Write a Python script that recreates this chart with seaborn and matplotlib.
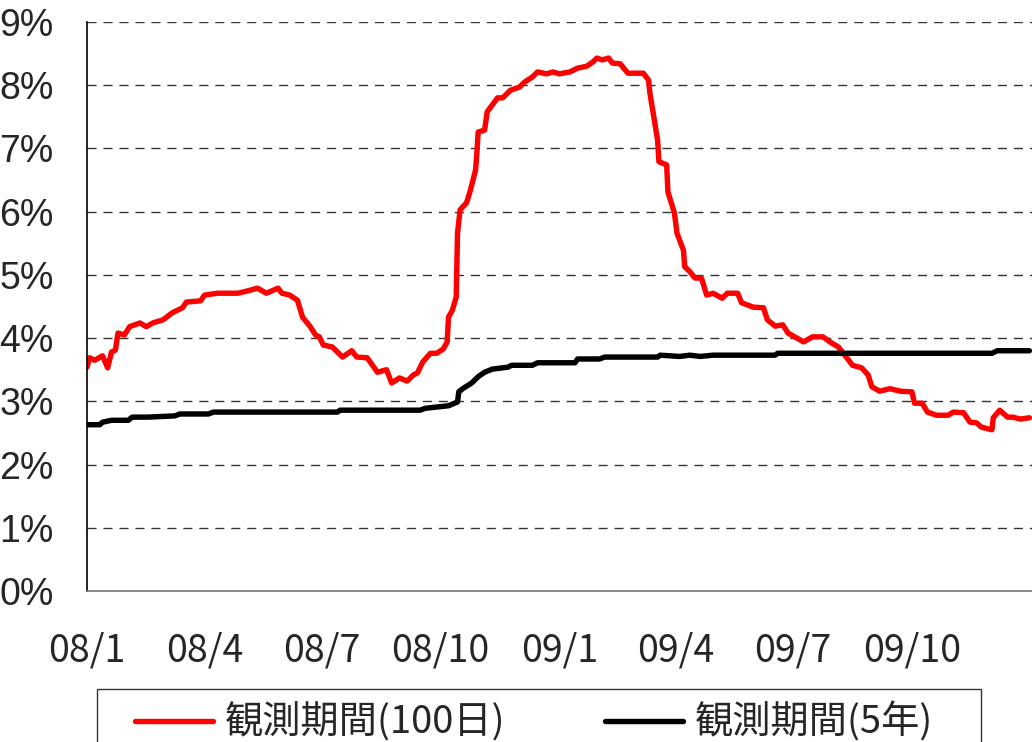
import pandas as pd
import matplotlib.pyplot as plt
from matplotlib import font_manager
from matplotlib.patches import Rectangle
import seaborn as sns

# --- data ---
red_dates = [
    "2008-01-01", "2008-01-03", "2008-01-07", "2008-01-13", "2008-01-17", "2008-01-20",
    "2008-01-23", "2008-01-25", "2008-01-30", "2008-02-03", "2008-02-11", "2008-02-16",
    "2008-02-21", "2008-02-29", "2008-03-07", "2008-03-15", "2008-03-18", "2008-03-29",
    "2008-04-01", "2008-04-11", "2008-04-27", "2008-05-05", "2008-05-12", "2008-05-19",
    "2008-05-28", "2008-05-31", "2008-06-06", "2008-06-12", "2008-06-16", "2008-06-22",
    "2008-06-26", "2008-06-29", "2008-07-02", "2008-07-09", "2008-07-17", "2008-07-24",
    "2008-07-28", "2008-08-05", "2008-08-13", "2008-08-20", "2008-08-24", "2008-08-30",
    "2008-09-05", "2008-09-10", "2008-09-13", "2008-09-17", "2008-09-23", "2008-09-28",
    "2008-10-03", "2008-10-06", "2008-10-07", "2008-10-10", "2008-10-13", "2008-10-14",
    "2008-10-16", "2008-10-21", "2008-10-24", "2008-10-28", "2008-10-29", "2008-10-30",
    "2008-11-04", "2008-11-06", "2008-11-10", "2008-11-14", "2008-11-18", "2008-11-24",
    "2008-12-01", "2008-12-05", "2008-12-11", "2008-12-15", "2008-12-22", "2008-12-27",
    "2009-01-01", "2009-01-09", "2009-01-15", "2009-01-22", "2009-01-27", "2009-01-30",
    "2009-02-03", "2009-02-08", "2009-02-11", "2009-02-17", "2009-02-23", "2009-03-07",
    "2009-03-11", "2009-03-12", "2009-03-18", "2009-03-19", "2009-03-25", "2009-03-26",
    "2009-03-31", "2009-04-02", "2009-04-07", "2009-04-08", "2009-04-12", "2009-04-16",
    "2009-04-21", "2009-04-25", "2009-04-30", "2009-05-07", "2009-05-11", "2009-05-19",
    "2009-05-22", "2009-05-31", "2009-06-08", "2009-06-11", "2009-06-17", "2009-06-23",
    "2009-06-27", "2009-07-04", "2009-07-09", "2009-07-16", "2009-07-24", "2009-07-31",
    "2009-08-05", "2009-08-10", "2009-08-16", "2009-08-23", "2009-08-28", "2009-08-31",
    "2009-09-06", "2009-09-14", "2009-09-22", "2009-10-01", "2009-10-03", "2009-10-09",
    "2009-10-13", "2009-10-20", "2009-10-29", "2009-11-02", "2009-11-10", "2009-11-15",
    "2009-11-20", "2009-11-24", "2009-12-02", "2009-12-03", "2009-12-08", "2009-12-14",
    "2009-12-18", "2009-12-24", "2009-12-31",
]
red_values = [
    3.54, 3.69, 3.65, 3.72, 3.53, 3.78,
    3.81, 4.08, 4.05, 4.18, 4.24, 4.18,
    4.24, 4.29, 4.40, 4.48, 4.57, 4.59,
    4.68, 4.71, 4.71, 4.75, 4.79, 4.71,
    4.79, 4.71, 4.68, 4.60, 4.33, 4.18,
    4.05, 4.02, 3.89, 3.86, 3.70, 3.80,
    3.70, 3.69, 3.46, 3.50, 3.29, 3.37,
    3.32, 3.42, 3.45, 3.62, 3.76, 3.76,
    3.83, 3.94, 4.33, 4.44, 4.65, 5.66,
    6.03, 6.14, 6.34, 6.66, 6.93, 7.26,
    7.29, 7.58, 7.69, 7.80, 7.80, 7.92,
    7.97, 8.05, 8.13, 8.21, 8.18, 8.21,
    8.18, 8.21, 8.27, 8.30, 8.37, 8.43,
    8.40, 8.43, 8.35, 8.34, 8.19, 8.19,
    8.08, 7.88, 7.13, 6.79, 6.74, 6.31,
    5.98, 5.66, 5.39, 5.13, 5.05, 4.95,
    4.95, 4.68, 4.71, 4.63, 4.71, 4.71,
    4.56, 4.49, 4.48, 4.29, 4.19, 4.21,
    4.08, 4.00, 3.94, 4.02, 4.02, 3.92,
    3.86, 3.73, 3.57, 3.53, 3.42, 3.23,
    3.16, 3.20, 3.16, 3.15, 2.97, 2.97,
    2.83, 2.78, 2.78, 2.83, 2.82, 2.67,
    2.66, 2.59, 2.55, 2.74, 2.86, 2.75,
    2.75, 2.72, 2.74,
]

black_dates = [
    "2008-01-01", "2008-01-11", "2008-01-13", "2008-01-20", "2008-02-02", "2008-02-05",
    "2008-02-17", "2008-03-09", "2008-03-13", "2008-04-04", "2008-04-08", "2008-07-13",
    "2008-07-15", "2008-09-15", "2008-09-19", "2008-10-07", "2008-10-14", "2008-10-15",
    "2008-10-18", "2008-10-25", "2008-10-30", "2008-11-04", "2008-11-10", "2008-11-22",
    "2008-11-25", "2008-12-11", "2008-12-15", "2009-01-13", "2009-01-15", "2009-02-01",
    "2009-02-05", "2009-03-18", "2009-03-20", "2009-04-04", "2009-04-12", "2009-04-20",
    "2009-04-30", "2009-06-17", "2009-06-19", "2009-12-02", "2009-12-06", "2009-12-31",
]
black_values = [
    2.63, 2.63, 2.67, 2.70, 2.70, 2.75,
    2.75, 2.77, 2.80, 2.80, 2.83, 2.83,
    2.86, 2.86, 2.89, 2.93, 2.99, 3.15,
    3.20, 3.29, 3.39, 3.46, 3.51, 3.54,
    3.57, 3.57, 3.61, 3.61, 3.67, 3.67,
    3.70, 3.70, 3.73, 3.71, 3.73, 3.71,
    3.73, 3.73, 3.76, 3.76, 3.80, 3.80,
]

series_labels = ["観測期間(100日)", "観測期間(5年)"]
series_colors = ["#ff0000", "#000000"]
tick_dates = ["2008-01-01", "2008-04-01", "2008-07-01", "2008-10-01",
              "2009-01-01", "2009-04-01", "2009-07-01", "2009-10-01"]
tick_labels = ["08/1", "08/4", "08/7", "08/10", "09/1", "09/4", "09/7", "09/10"]
y_ticks = list(range(0, 10))

df = pd.concat([
    pd.DataFrame({"date": pd.to_datetime(red_dates), "vol": red_values, "series": series_labels[0]}),
    pd.DataFrame({"date": pd.to_datetime(black_dates), "vol": black_values, "series": series_labels[1]}),
])

# --- style ---
sns.set_theme(style="white")
plt.rcParams['font.family'] = ['Noto Sans CJK JP', 'DejaVu Sans']
installed = {f.name for f in font_manager.fontManager.ttflist}
narrow = 'Liberation Sans Narrow' if 'Liberation Sans Narrow' in installed else 'Liberation Sans'

fig = plt.figure(figsize=(10.32, 7.42), dpi=100)
ax = fig.add_axes([87 / 1032, 1 - 591 / 742, 1 - 87 / 1032, (591 - 22) / 742])

sns.lineplot(data=df, x="date", y="vol", hue="series", palette=series_colors,
             hue_order=series_labels, estimator=None, linewidth=3.9,
             legend=False, ax=ax)

ax.set_xlim(pd.Timestamp("2008-01-01"), pd.Timestamp("2010-01-02"))
ax.set_ylim(0, 9)
ax.set_xlabel("")
ax.set_ylabel("")

ax.set_xticks(pd.to_datetime(tick_dates))
ax.set_xticklabels(tick_labels, fontsize=27)
ax.set_yticks(y_ticks)
ax.set_yticklabels([f"{v}%" for v in y_ticks], fontsize=27, family=[narrow, 'DejaVu Sans'])

ax.tick_params(axis='x', direction='in', length=13, width=1, color='#777777', pad=29)
ax.tick_params(axis='y', length=0, pad=24)

for y in y_ticks[1:]:
    ax.axhline(y, color='#333333', lw=1.0, dashes=(6.5, 5), zorder=0)

for side in ['top', 'right']:
    ax.spines[side].set_visible(False)
ax.spines['left'].set_color('black')
ax.spines['left'].set_linewidth(1.2)
ax.spines['bottom'].set_color('#777777')
ax.spines['bottom'].set_linewidth(1.2)

# --- legend at the bottom ---
handles = [plt.Line2D([], [], color=c, lw=3.9) for c in series_colors]
fig.patches.append(Rectangle((97 / 1032, 1 - 760 / 742), (981 - 97) / 1032, 71 / 742,
                             transform=fig.transFigure, fill=False,
                             edgecolor='#333333', lw=1.0))
fig.legend(handles, series_labels, loc='center left',
           bbox_to_anchor=(135 / 1032, 1 - 723 / 742), frameon=False,
           ncol=2, fontsize=27.5, borderpad=0, borderaxespad=0,
           handlelength=2.05, handletextpad=0.3, columnspacing=2.6)

plt.savefig('out.png', dpi=100)
